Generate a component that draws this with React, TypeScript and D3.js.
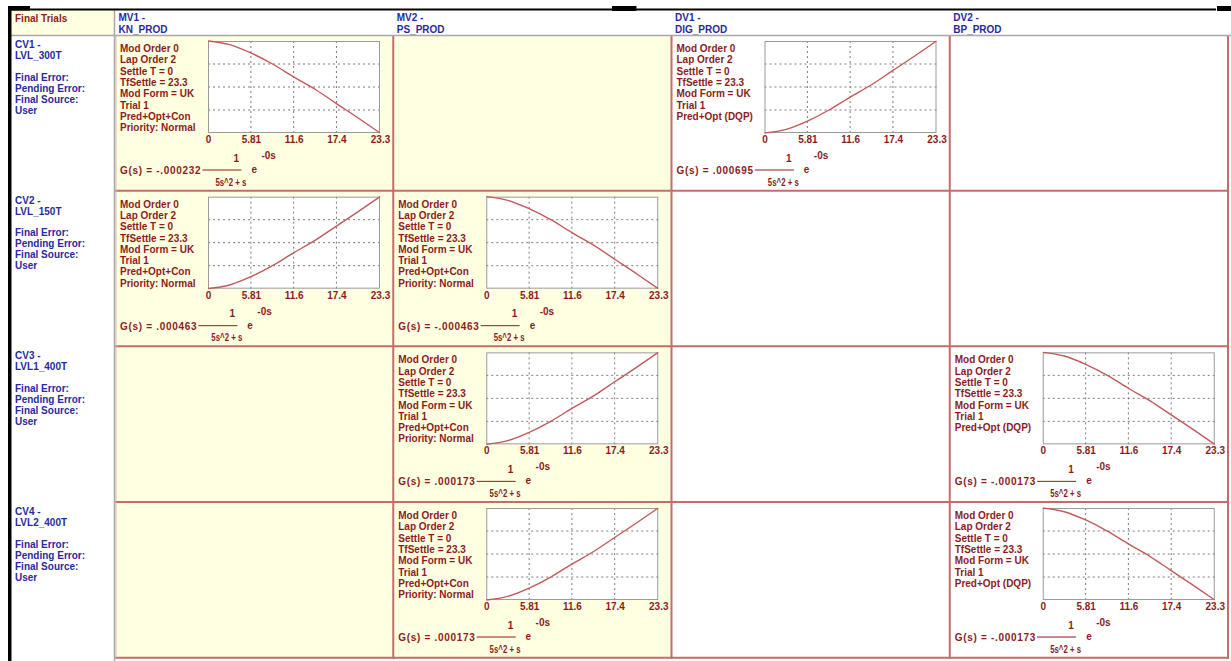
import { useEffect, useRef } from 'react'
import * as d3 from 'd3'

const W = 1231
const H = 661

const cornerLabel = 'Final Trials'
const colNames = ['MV1 -', 'MV2 -', 'DV1 -', 'DV2 -']
const colTags = ['KN_PROD', 'PS_PROD', 'DIG_PROD', 'BP_PROD']
const rowNames = ['CV1 -', 'CV2 -', 'CV3 -', 'CV4 -']
const rowTags = ['LVL_300T', 'LVL_150T', 'LVL1_400T', 'LVL2_400T']
const rowInfo = ['Final Error:', 'Pending Error:', 'Final Source:', 'User']

// cells that hold a model (row, col) and the gain printed under it
const modelRow = [0, 0, 1, 1, 2, 2, 3, 3]
const modelCol = [0, 2, 0, 1, 1, 3, 1, 3]
const modelGain = ['-.000232', '.000695', '.000463', '-.000463', '.000173', '-.000173', '.000173', '-.000173']

const specLines = ['Mod Order 0', 'Lap Order 2', 'Settle T = 0', 'TfSettle = 23.3', 'Mod Form = UK', 'Trial 1']
const mvModeLines = ['Pred+Opt+Con', 'Priority: Normal']
const dvModeLines = ['Pred+Opt (DQP)']

const timeTicks = [0, 5.81, 11.6, 17.4, 23.3]
const gridFrac = [0.25, 0.5, 0.75]
// step response, as a fraction of the end value
const respTime = [0, 2.91, 5.81, 8.74, 11.6, 14.6, 17.4, 20.4, 23.3]
const respFrac = [0, 0.04, 0.13, 0.25, 0.39, 0.53, 0.68, 0.84, 1]

const FONT = '"Liberation Sans", Arial, sans-serif'
const RED_TEXT = '#8c1c1c'
const BLUE_TEXT = '#2a2a9c'
const CELL_LINE = '#c46c6c'
const YELLOW = '#ffffe1'

export default function App() {
  const svgRef = useRef<SVGSVGElement>(null)

  useEffect(() => {
    if (!svgRef.current) return
    const svg = d3.select(svgRef.current)
    svg.selectAll('*').remove()

    const colX = d3.scaleLinear().domain([0, 4]).range([115, 1228])
    const rowY = d3.scaleLinear().domain([0, 4]).range([35, 657.7])
    const colW = colX(1) - colX(0)

    svg.append('rect').attr('width', W).attr('height', H).attr('fill', '#fff')

    // backgrounds
    svg.append('rect').attr('x', 11.5).attr('y', 10.5).attr('width', 103).attr('height', 24.5).attr('fill', YELLOW)
    d3.range(2).forEach(c => {
      svg.append('rect')
        .attr('x', colX(c)).attr('y', rowY(0))
        .attr('width', colW).attr('height', rowY(4) - rowY(0))
        .attr('fill', YELLOW)
    })

    const txt = (sel: d3.Selection<any, unknown, null, undefined>, x: number, y: number, s: string, fill: string) =>
      sel.append('text')
        .attr('x', x).attr('y', y)
        .attr('font-family', FONT).attr('font-size', 10).attr('font-weight', 'bold')
        .attr('fill', fill)
        .text(s)

    // header row
    txt(svg, 15, 21.5, cornerLabel, RED_TEXT)
    colNames.forEach((n, c) => {
      txt(svg, colX(c) + 3.5, 21, n, BLUE_TEXT)
      txt(svg, colX(c) + 3.5, 32.5, colTags[c], BLUE_TEXT)
    })

    // row headers
    rowNames.forEach((n, r) => {
      const y0 = rowY(r)
      txt(svg, 15, y0 + 13, n, BLUE_TEXT)
      txt(svg, 15, y0 + 23.9, rowTags[r], BLUE_TEXT)
      rowInfo.forEach((s, i) => txt(svg, 15, y0 + 45.5 + i * 11, s, BLUE_TEXT))
    })

    // cell borders
    d3.range(1, 5).forEach(c => {
      svg.append('line')
        .attr('x1', colX(c)).attr('x2', colX(c))
        .attr('y1', rowY(0)).attr('y2', rowY(4) + 1)
        .attr('stroke', CELL_LINE).attr('stroke-width', 2)
    })
    d3.range(1, 5).forEach(r => {
      svg.append('line')
        .attr('x1', colX(0)).attr('x2', colX(4) + 1)
        .attr('y1', rowY(r)).attr('y2', rowY(r))
        .attr('stroke', CELL_LINE).attr('stroke-width', 2)
    })
    svg.append('line').attr('x1', 116).attr('x2', 116).attr('y1', 35).attr('y2', rowY(4))
      .attr('stroke', '#e0b8b8').attr('stroke-width', 1)

    // gray separators
    svg.append('line').attr('x1', 11).attr('x2', W).attr('y1', 35.5).attr('y2', 35.5)
      .attr('stroke', '#a8a8a8').attr('stroke-width', 1.5)
    svg.append('line').attr('x1', 114.5).attr('x2', 114.5).attr('y1', 10).attr('y2', H)
      .attr('stroke', '#a8a8a8').attr('stroke-width', 1.5)

    // black frame bits
    svg.append('rect').attr('x', 8).attr('y', 8.5).attr('width', 1208).attr('height', 2).attr('fill', '#000')
    svg.append('rect').attr('x', 8).attr('y', 6).attr('width', 22).attr('height', 4.5).attr('fill', '#000')
    svg.append('rect').attr('x', 612).attr('y', 6).attr('width', 24.5).attr('height', 5).attr('fill', '#000')
    svg.append('rect').attr('x', 1217).attr('y', 6).attr('width', 14).attr('height', 5).attr('fill', '#000')
    svg.append('rect').attr('x', 8).attr('y', 6).attr('width', 3.5).attr('height', H - 6).attr('fill', '#000')

    // model cells
    const x = d3.scaleLinear().domain([0, 23.3]).range([93, 265])
    modelGain.forEach((gain, m) => {
      const r = modelRow[m]
      const c = modelCol[m]
      const neg = gain.startsWith('-')
      const g = svg.append('g').attr('transform', `translate(${colX(c)},${rowY(r)})`)

      const lines = specLines.concat(c < 2 ? mvModeLines : dvModeLines)
      lines.forEach((s, i) => txt(g, 5, 17 + i * 11.3, s, RED_TEXT))

      const y = d3.scaleLinear().domain(neg ? [1, 0] : [0, 1]).range([98, 6])

      g.append('rect')
        .attr('x', x(0)).attr('y', 6)
        .attr('width', x(23.3) - x(0)).attr('height', 92)
        .attr('fill', '#fff')

      g.append('g').selectAll('line')
        .data(timeTicks.slice(1, -1))
        .join('line')
        .attr('x1', d => x(d)).attr('x2', d => x(d))
        .attr('y1', 6).attr('y2', 98)
        .attr('stroke', '#7c7c7c').attr('stroke-dasharray', '2 3')

      g.append('g').selectAll('line')
        .data(gridFrac)
        .join('line')
        .attr('x1', x(0)).attr('x2', x(23.3))
        .attr('y1', d => y(d)).attr('y2', d => y(d))
        .attr('stroke', '#7c7c7c').attr('stroke-dasharray', '2 3')

      g.append('rect')
        .attr('x', x(0) + 0.5).attr('y', 6.5)
        .attr('width', x(23.3) - x(0) - 1).attr('height', 91)
        .attr('fill', 'none').attr('stroke', '#9a9a9a').attr('stroke-width', 1)

      const line = d3.line<number>()
        .x((_, i) => x(respTime[i]))
        .y(d => y(d))
        .curve(d3.curveMonotoneX)
      g.append('path')
        .attr('d', line(respFrac))
        .attr('fill', 'none')
        .attr('stroke', '#c25a5a')
        .attr('stroke-width', 1.4)

      g.append('g')
        .attr('transform', 'translate(0,98)')
        .call(d3.axisBottom(x).tickValues(timeTicks).tickSize(0).tickPadding(3).tickFormat(d => String(d)))
        .call(sel => sel.select('.domain').remove())
        .call(sel => sel.selectAll('text')
          .attr('fill', RED_TEXT)
          .attr('font-size', 10)
          .attr('font-weight', 'bold')
          .attr('font-family', FONT))

      // transfer function
      const gt = txt(g, 5, 139, `G(s) = ${gain}`, RED_TEXT).attr('letter-spacing', 0.7)
      const tw = (gt.node() as SVGTextElement).getBBox().width
      const x0 = 5 + tw + 1
      g.append('line')
        .attr('x1', x0).attr('x2', x0 + 39)
        .attr('y1', 135).attr('y2', 135)
        .attr('stroke', RED_TEXT).attr('stroke-width', 1)
      txt(g, x0 + 34, 126.5, '1', RED_TEXT).attr('text-anchor', 'middle')
      txt(g, x0 + 13, 150.5, '5s^2 + s', RED_TEXT)
        .attr('textLength', 31).attr('lengthAdjust', 'spacingAndGlyphs')
      txt(g, x0 + 49, 138, 'e', RED_TEXT)
      txt(g, x0 + 59, 124, '-0s', RED_TEXT)
    })
  }, [])

  return (
    <div style={{ position: 'absolute', left: 0, top: 0 }}>
      <svg ref={svgRef} width={W} height={H} style={{ display: 'block' }} />
    </div>
  )
}
